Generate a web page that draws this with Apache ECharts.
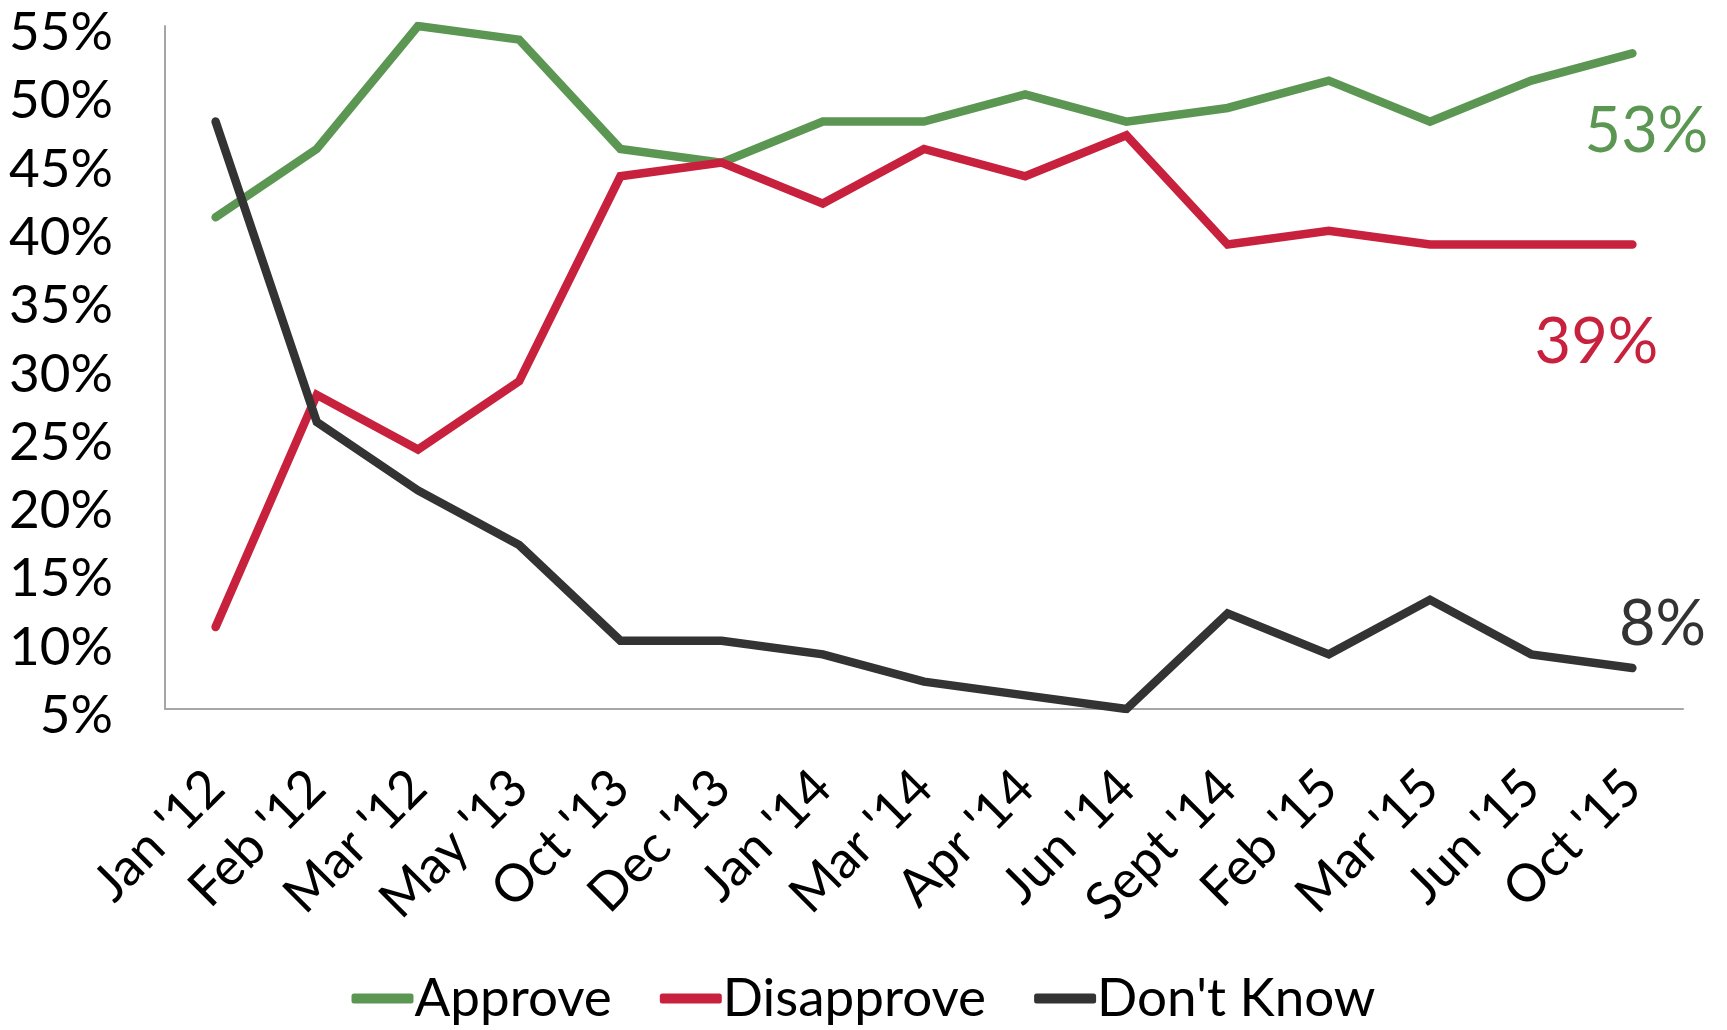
<!DOCTYPE html>
<html>
<head>
<meta charset="utf-8">
<script src="https://cdn.jsdelivr.net/npm/echarts@6/dist/echarts.min.js"></script>
<style>
html,body{margin:0;padding:0;background:#fff;}
#c{width:1727px;height:1030px;}
</style>
</head>
<body>
<div id="c"></div>
<script>
var categories = ["Jan '12","Feb '12","Mar '12","May '13","Oct '13","Dec '13","Jan '14","Mar '14","Apr '14","Jun '14","Sept '14","Feb '15","Mar '15","Jun '15","Oct '15"];
var approve    = [41,46,55,54,46,45,48,48,50,48,49,51,48,51,53];
var disapprove = [11,28,24,29,44,45,42,46,44,47,39,40,39,39,39];
var dontKnow   = [48,26,21,17,10,10,9,7,6,5,12,9,13,9,8];
var seriesNames = ["Approve","Disapprove","Don't Know"];
var colors = ["#5B9752","#C8213D","#333333"];
var FONT = "Lato";

function endMark(values, color, offset) {
  var i = values.length - 1;
  return {
    symbol: 'circle', symbolSize: 0, silent: true,
    data: [{
      coord: [categories[i], values[i]],
      label: {
        show: true, formatter: values[i] + '%', position: 'inside',
        offset: offset, color: color, fontSize: 63, fontFamily: FONT
      }
    }]
  };
}

function mk(name, values, color, offset) {
  return {
    name: name, type: 'line', data: values,
    symbol: 'none', smooth: false,
    lineStyle: { width: 8.5, color: color, cap: 'round', join: 'miter' },
    itemStyle: { color: color },
    markPoint: endMark(values, color, offset),
    z: 2
  };
}

var chart = echarts.init(document.getElementById('c'), null, { renderer: 'canvas' });
chart.setOption({
  animation: false,
  backgroundColor: '#ffffff',
  grid: { left: 165, right: 44, top: 26, bottom: 321, containLabel: false },
  legend: {
    data: seriesNames.map(function (n, i) { return { name: n, icon: 'roundRect' }; }),
    bottom: 0, left: 'center',
    itemWidth: 62, itemHeight: 10, itemGap: 48,
    textStyle: { fontSize: 53, fontFamily: FONT, color: '#000', padding: [0, 0, 0, -4] }
  },
  xAxis: {
    type: 'category', data: categories, boundaryGap: true,
    axisLine: { show: true, lineStyle: { color: '#A6A6A6', width: 2 } },
    axisTick: { show: false },
    axisLabel: { rotate: 45, margin: 70, fontSize: 52, fontFamily: FONT, color: '#000', interval: 0 }
  },
  yAxis: {
    type: 'value', min: 5, max: 55, interval: 5,
    axisLine: { show: true, lineStyle: { color: '#A6A6A6', width: 2 } },
    axisTick: { show: false },
    splitLine: { show: false },
    axisLabel: { formatter: '{value}%', fontSize: 53, fontFamily: FONT, color: '#000', margin: 52, align: 'right', verticalAlign: 'top', lineHeight: 14 }
  },
  series: [
    mk(seriesNames[0], approve, colors[0], [14, 78]),
    mk(seriesNames[1], disapprove, colors[1], [-36, 98]),
    mk(seriesNames[2], dontKnow, colors[2], [30, -43])
  ]
});
</script>
</body>
</html>
